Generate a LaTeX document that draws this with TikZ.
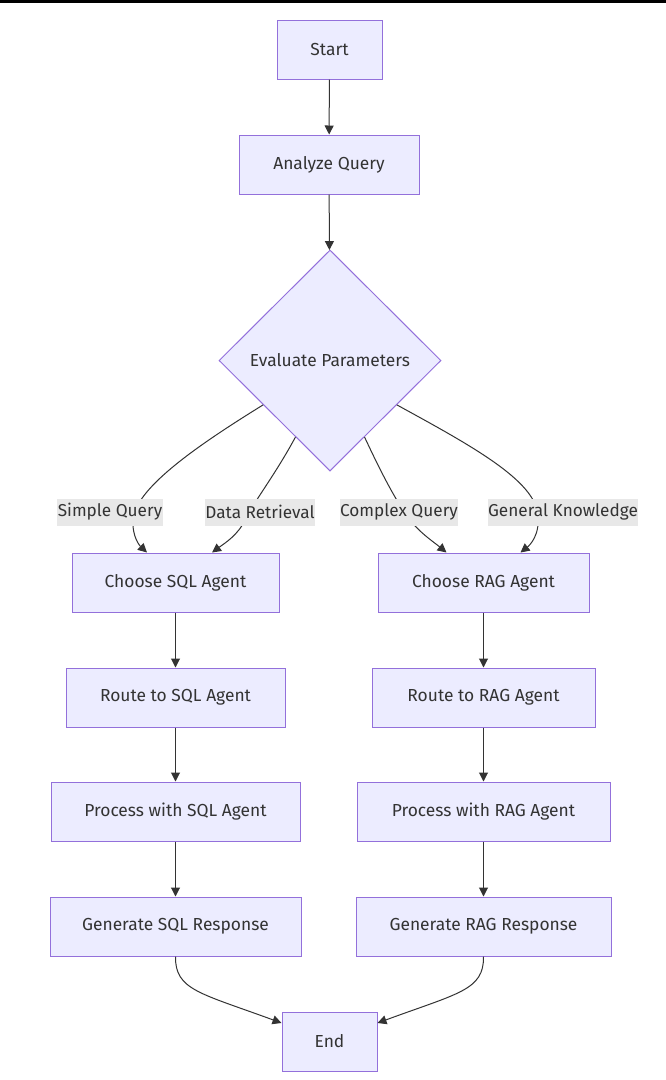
\documentclass[tikz,border=0pt]{standalone}
\usepackage{fontspec}
\setmainfont{Fira Sans}
\usetikzlibrary{shapes.geometric,arrows.meta,calc}
\definecolor{nodefill}{HTML}{ECECFF}
\definecolor{nodeline}{HTML}{9370DB}
\definecolor{edgecol}{HTML}{333333}
\definecolor{labelbg}{HTML}{E8E8E8}
\begin{document}
\begin{tikzpicture}[x=1pt,y=-1pt,
  box/.style={draw=nodeline, fill=nodefill, line width=1pt, text=edgecol,
    font=\fontsize{17.4}{20}\selectfont, minimum height=59pt, inner sep=0pt},
  decision/.style={diamond, aspect=1, draw=nodeline, fill=nodefill, line width=1pt,
    text=edgecol, font=\fontsize{17.4}{20}\selectfont, inner sep=0pt,
    minimum width=222pt, minimum height=221pt},
  elabel/.style={fill=labelbg, text=edgecol, font=\fontsize{17.2}{20}\selectfont,
    inner xsep=0.5pt, inner ysep=0pt, minimum height=27pt},
  conn/.style={draw=edgecol, line width=1pt, -{Triangle[length=9pt,width=9pt]}}]
\useasboundingbox (0,0) rectangle (666,1080);
\fill[white] (0,0) rectangle (666,1080);
\fill[black] (0,0) rectangle (666,2.5);

\node[box, minimum width=105pt] (start) at (329.5,49.5) {Start};
\node[box, minimum width=180pt] (analyze) at (329,164.5) {Analyze Query};
\node[decision] (eval) at (330,360.5) {Evaluate Parameters};
\node[box, minimum width=207pt] (sqla) at (175.5,582.5) {Choose SQL Agent};
\node[box, minimum width=211pt] (raga) at (483.5,582.5) {Choose RAG Agent};
\node[box, minimum width=219pt] (sqlr) at (175.5,697.5) {Route to SQL Agent};
\node[box, minimum width=223pt] (ragr) at (483.5,697.5) {Route to RAG Agent};
\node[box, minimum width=249pt] (sqlp) at (175.5,811.5) {Process with SQL Agent};
\node[box, minimum width=253pt] (ragp) at (483.5,811.5) {Process with RAG Agent};
\node[box, minimum width=251pt] (sqlg) at (175.5,926.5) {Generate SQL Response};
\node[box, minimum width=255pt] (ragg) at (483.5,926.5) {Generate RAG Response};
\node[box, minimum width=95pt] (end) at (329.5,1041.5) {End};

\draw[conn] (start) -- (analyze);
\draw[conn] (analyze) -- (eval);

\coordinate (a1) at ($(eval.west)!0.4!(eval.south)$);
\coordinate (a2) at ($(eval.west)!0.69!(eval.south)$);
\coordinate (a3) at ($(eval.south)!0.31!(eval.east)$);
\coordinate (a4) at ($(eval.south)!0.6!(eval.east)$);
\coordinate (b1) at ($(sqla.north)+(-28.5,0)$);
\coordinate (b2) at ($(sqla.north)+(36.5,0)$);
\coordinate (b3) at ($(raga.north)+(-37,0)$);
\coordinate (b4) at ($(raga.north)+(37,0)$);

\draw[conn] (a1) .. controls (190,450) and (135,490) .. (133,520) .. controls (132,537) and (140,546) .. (b1);
\draw[conn] (a2) .. controls (275,475) and (255,500) .. (245,520) .. controls (238,535) and (225,543) .. (b2);
\draw[conn] (a3) .. controls (380,470) and (395,500) .. (410,520) .. controls (420,533) and (435,543) .. (b3);
\draw[conn] (a4) .. controls (470,445) and (535,480) .. (538,515) .. controls (540,535) and (530,545) .. (b4);

\node[elabel] (l1) at (110,512) {Simple Query};
\node[elabel] (l2) at (260,512) {Data Retrieval};
\node[elabel] (l3) at (399,512) {Complex Query};
\node[elabel] (l4) at (563,512) {General Knowledge};

\draw[conn] (sqla) -- (sqlr);
\draw[conn] (sqlr) -- (sqlp);
\draw[conn] (sqlp) -- (sqlg);
\draw[conn] (raga) -- (ragr);
\draw[conn] (ragr) -- (ragp);
\draw[conn] (ragp) -- (ragg);

\coordinate (e1) at ($(end.west)+(0,-18.5)$);
\coordinate (e2) at ($(end.east)+(0,-18.5)$);
\draw[conn] (sqlg.south) .. controls (175,990) and (200,993) .. (e1);
\draw[conn] (ragg.south) .. controls (484,990) and (459,993) .. (e2);
\end{tikzpicture}
\end{document}
